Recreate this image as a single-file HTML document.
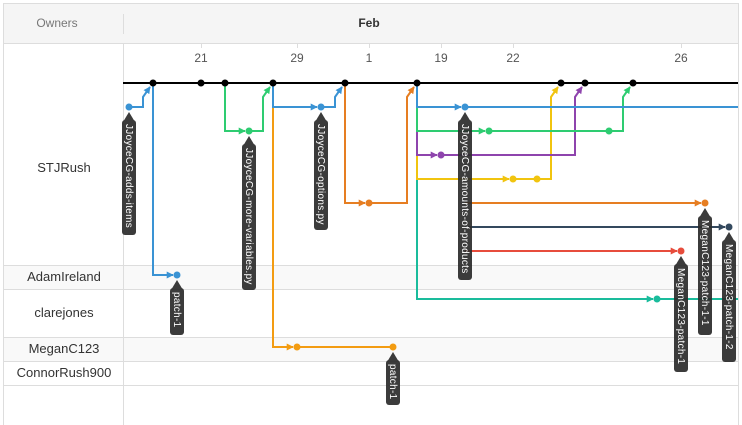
<!DOCTYPE html>
<html><head><meta charset="utf-8"><style>
html,body{margin:0;padding:0;background:#fff;}
svg{display:block;font-family:"Liberation Sans",Arial,sans-serif;}
</style></head><body>
<svg width="742" height="425" viewBox="0 0 742 425" xmlns="http://www.w3.org/2000/svg">
<defs>
<marker id="ar" viewBox="0 0 10 10" refX="9" refY="5" markerWidth="7" markerHeight="7" orient="auto" markerUnits="userSpaceOnUse"><path d="M0,0L10,5L0,10z" fill="context-stroke"/></marker>
</defs>
<rect x="3.5" y="3.5" width="735" height="430" fill="#fff" stroke="#ddd"/>
<rect x="4" y="4" width="734" height="39" fill="#f5f5f5"/>
<line x1="4" y1="43.5" x2="738" y2="43.5" stroke="#ddd"/>
<line x1="123.5" y1="14" x2="123.5" y2="34" stroke="#ddd"/>
<line x1="123.5" y1="44" x2="123.5" y2="425" stroke="#ddd"/>
<rect x="4" y="265" width="734" height="24" fill="#f9f9f9"/>
<rect x="4" y="337" width="734" height="24" fill="#f9f9f9"/>
<g stroke="#ddd">
<line x1="4" y1="265.5" x2="738" y2="265.5"/><line x1="4" y1="289.5" x2="738" y2="289.5"/>
<line x1="4" y1="337.5" x2="738" y2="337.5"/><line x1="4" y1="361.5" x2="738" y2="361.5"/>
<line x1="4" y1="385.5" x2="738" y2="385.5"/>
<line x1="123.5" y1="265" x2="123.5" y2="425"/>
</g>
<text x="57" y="27" font-size="12" fill="#777" text-anchor="middle">Owners</text>
<text x="369" y="27" font-size="12" fill="#333" font-weight="bold" text-anchor="middle">Feb</text>
<g stroke="#ddd"><line x1="201.5" y1="44" x2="201.5" y2="48"/><line x1="297.5" y1="44" x2="297.5" y2="48"/><line x1="369.5" y1="44" x2="369.5" y2="48"/><line x1="441.5" y1="44" x2="441.5" y2="48"/><line x1="513.5" y1="44" x2="513.5" y2="48"/><line x1="681.5" y1="44" x2="681.5" y2="48"/></g>
<g font-size="12" fill="#555" text-anchor="middle">
<text x="201" y="62">21</text><text x="297" y="62">29</text><text x="369" y="62">1</text><text x="441" y="62">19</text><text x="513" y="62">22</text><text x="681" y="62">26</text>
</g>
<g font-size="13" fill="#333" text-anchor="middle">
<text x="64" y="172">STJRush</text><text x="64" y="281">AdamIreland</text><text x="64" y="317">clarejones</text><text x="64" y="353">MeganC123</text><text x="64" y="377">ConnorRush900</text>
</g>
<g fill="none" stroke-width="2">
<path d="M129,107H143V97L150,87" stroke="#3a93d4" marker-end="url(#ar)"/>
<path d="M153,83V275H173" stroke="#3a93d4" marker-end="url(#ar)"/>
<path d="M225,83V131H245" stroke="#2ecc71" marker-end="url(#ar)"/>
<path d="M249,131H263V97L270,87" stroke="#2ecc71" marker-end="url(#ar)"/>
<path d="M273,83V347H293" stroke="#f39c12" marker-end="url(#ar)"/>
<path d="M297,347H393" stroke="#f39c12"/>
<path d="M273,83V107H317" stroke="#3a93d4" marker-end="url(#ar)"/>
<path d="M321,107H335V97L342,87" stroke="#3a93d4" marker-end="url(#ar)"/>
<path d="M345,83V203H365" stroke="#e67e22" marker-end="url(#ar)"/>
<path d="M369,203H407V97L414,87" stroke="#e67e22" marker-end="url(#ar)"/>
<path d="M417,83V299H653" stroke="#1abc9c" marker-end="url(#ar)"/>
<path d="M657,299H738" stroke="#1abc9c"/>
<path d="M417,83V179H509" stroke="#f1c40f" marker-end="url(#ar)"/>
<path d="M513,179H551V97L558,87" stroke="#f1c40f" marker-end="url(#ar)"/>
<path d="M417,83V155H437" stroke="#8e44ad" marker-end="url(#ar)"/>
<path d="M441,155H575V97L582,87" stroke="#8e44ad" marker-end="url(#ar)"/>
<path d="M417,83V131H485" stroke="#2ecc71" marker-end="url(#ar)"/>
<path d="M489,131H623V97L630,87" stroke="#2ecc71" marker-end="url(#ar)"/>
<path d="M417,83V107H461" stroke="#3a93d4" marker-end="url(#ar)"/>
<path d="M465,107H738" stroke="#3a93d4"/>
<path d="M465,203H701" stroke="#e67e22" marker-end="url(#ar)"/>
<path d="M465,227H725" stroke="#34495e" marker-end="url(#ar)"/>
<path d="M465,251H677" stroke="#e74c3c" marker-end="url(#ar)"/>
</g>
<line x1="123" y1="83" x2="738" y2="83" stroke="#000" stroke-width="2"/>
<g fill="#000"><circle cx="153" cy="83" r="3.5"/><circle cx="201" cy="83" r="3.5"/><circle cx="225" cy="83" r="3.5"/><circle cx="273" cy="83" r="3.5"/><circle cx="345" cy="83" r="3.5"/><circle cx="417" cy="83" r="3.5"/><circle cx="561" cy="83" r="3.5"/><circle cx="585" cy="83" r="3.5"/><circle cx="633" cy="83" r="3.5"/></g>
<g>
<circle cx="129" cy="107" r="3.5" fill="#3a93d4"/><circle cx="177" cy="275" r="3.5" fill="#3a93d4"/>
<circle cx="249" cy="131" r="3.5" fill="#2ecc71"/><circle cx="297" cy="347" r="3.5" fill="#f39c12"/><circle cx="393" cy="347" r="3.5" fill="#f39c12"/>
<circle cx="321" cy="107" r="3.5" fill="#3a93d4"/><circle cx="369" cy="203" r="3.5" fill="#e67e22"/>
<circle cx="465" cy="107" r="3.5" fill="#3a93d4"/><circle cx="489" cy="131" r="3.5" fill="#2ecc71"/><circle cx="609" cy="131" r="3.5" fill="#2ecc71"/>
<circle cx="441" cy="155" r="3.5" fill="#8e44ad"/><circle cx="513" cy="179" r="3.5" fill="#f1c40f"/><circle cx="537" cy="179" r="3.5" fill="#f1c40f"/>
<circle cx="705" cy="203" r="3.5" fill="#e67e22"/><circle cx="729" cy="227" r="3.5" fill="#34495e"/><circle cx="681" cy="251" r="3.5" fill="#e74c3c"/><circle cx="657" cy="299" r="3.5" fill="#1abc9c"/>
</g>
<g font-size="10" fill="#fff" letter-spacing="0.3">
<g opacity="0.92" fill="#2b2b2b">
<path d="M129,112L135,122H123Z"/><rect x="122" y="120" width="14" height="115" rx="3"/>
<path d="M249,136L255,146H243Z"/><rect x="242" y="144" width="14" height="146" rx="3"/>
<path d="M321,112L327,122H315Z"/><rect x="314" y="120" width="14" height="110" rx="3"/>
<path d="M177,280L183,290H171Z"/><rect x="170" y="288" width="14" height="47" rx="3"/>
<path d="M465,112L471,122H459Z"/><rect x="458" y="120" width="14" height="160" rx="3"/>
<path d="M393,352L399,362H387Z"/><rect x="386" y="360" width="14" height="45" rx="3"/>
<path d="M681,256L687,266H675Z"/><rect x="674" y="264" width="14" height="108" rx="3"/>
<path d="M705,208L711,218H699Z"/><rect x="698" y="216" width="14" height="119" rx="3"/>
<path d="M729,232L735,242H723Z"/><rect x="722" y="240" width="14" height="122" rx="3"/>
</g>
<text transform="translate(126,124) rotate(90)">JJoyceCG-adds-items</text>
<text transform="translate(246,148) rotate(90)">JJoyceCG-more-variables.py</text>
<text transform="translate(318,124) rotate(90)">JJoyceCG-options.py</text>
<text transform="translate(174,292) rotate(90)">patch-1</text>
<text transform="translate(462,124) rotate(90)">JJoyceCG-amounts-of-products</text>
<text transform="translate(390,364) rotate(90)">patch-1</text>
<text transform="translate(678,268) rotate(90)">MeganC123-patch-1</text>
<text transform="translate(702,220) rotate(90)">MeganC123-patch-1-1</text>
<text transform="translate(726,244) rotate(90)">MeganC123-patch-1-2</text>
</g>
</svg>
</body></html>
